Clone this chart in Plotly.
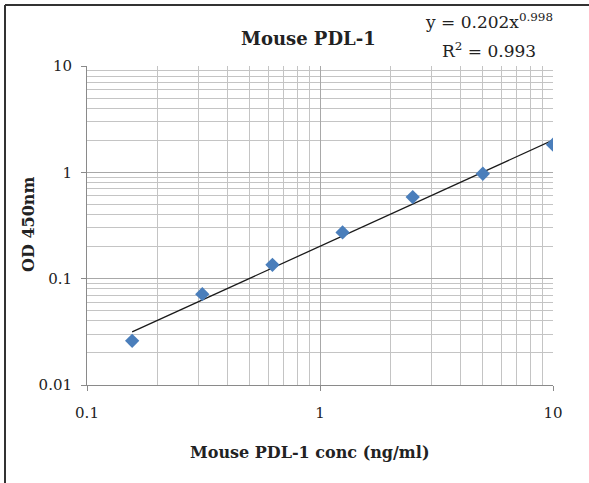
import plotly.graph_objects as go

# Data
conc = [0.15625, 0.3125, 0.625, 1.25, 2.5, 5, 10]
od450 = [0.026, 0.0715, 0.135, 0.272, 0.585, 0.97, 1.82]

# Power trendline endpoints (y = 0.202x^0.998)
trend_x = [0.15625, 10]
trend_y = [0.0316, 2.01]

x_major = [0.1, 1, 10]
x_minor = [0.2, 0.3, 0.4, 0.5, 0.6, 0.7, 0.8, 0.9, 2, 3, 4, 5, 6, 7, 8, 9]
y_major = [0.01, 0.1, 1, 10]
y_minor = [0.02, 0.03, 0.04, 0.05, 0.06, 0.07, 0.08, 0.09,
           0.2, 0.3, 0.4, 0.5, 0.6, 0.7, 0.8, 0.9,
           2, 3, 4, 5, 6, 7, 8, 9]
x_ticktext = ["0.1", "1", "10"]
y_ticktext = ["0.01", "0.1", "1", "10"]

W, H = 589, 483
L, R, T, B = 87, 553, 66, 385

def px(x):
    return (x - L) / (R - L)

def py(y):
    return (B - y) / (B - T)

SERIF = "DejaVu Serif"
GRID = "#c4c4c4"

fig = go.Figure()
fig.add_trace(go.Scatter(
    x=trend_x, y=trend_y, mode="lines",
    line=dict(color="#1a1a1a", width=1.3), showlegend=False, hoverinfo="skip"))
fig.add_trace(go.Scatter(
    x=conc, y=od450, mode="markers",
    marker=dict(symbol="diamond", size=11, color="#4a7ebb"),
    showlegend=False))

axis_common = dict(
    type="log", showline=True, linecolor="#8a8a8a", linewidth=1,
    ticks="outside", ticklen=5, tickcolor="#8a8a8a",
    showgrid=True, gridcolor="#a8a8a8", gridwidth=1,
    tickfont=dict(family=SERIF, size=15, color="#222"),
    zeroline=False, mirror=False,
)

fig.update_xaxes(
    **axis_common, range=[-1, 1], tickmode="array",
    tickvals=x_major, ticktext=x_ticktext, ticklabelstandoff=9,
    minor=dict(tickmode="array", tickvals=x_minor, showgrid=True,
               gridcolor=GRID, gridwidth=1, ticks=""),
)
fig.update_yaxes(
    **axis_common, range=[-2, 1], tickmode="array",
    tickvals=y_major, ticktext=y_ticktext, ticklabelstandoff=6,
    minor=dict(tickmode="array", tickvals=y_minor, showgrid=True,
               gridcolor=GRID, gridwidth=1, ticks=""),
)

annotations = [
    dict(text="<b>Mouse PDL-1</b>", x=px(308), y=py(38),
         font=dict(family=SERIF, size=18, color="#222")),
    dict(text="y = 0.202x<sup>0.998</sup>", x=px(489), y=py(21),
         font=dict(family=SERIF, size=17, color="#222")),
    dict(text="R<sup>2</sup> = 0.993", x=px(489), y=py(50),
         font=dict(family=SERIF, size=17, color="#222")),
    dict(text="<b>Mouse PDL-1 conc (ng/ml)</b>", x=px(309), y=py(452),
         font=dict(family=SERIF, size=16, color="#222")),
    dict(text="<b>OD 450nm</b>", x=px(28), y=py(225), textangle=-90,
         font=dict(family=SERIF, size=16, color="#222")),
]
for a in annotations:
    a.update(xref="paper", yref="paper", showarrow=False,
             xanchor="center", yanchor="middle")

shapes = [
    dict(type="line", xref="paper", yref="paper",
         x0=px(5), x1=px(5), y0=py(5), y1=py(490),
         line=dict(color="#333", width=2)),
    dict(type="line", xref="paper", yref="paper",
         x0=px(5), x1=px(595), y0=py(5), y1=py(5),
         line=dict(color="#333", width=2)),
]

fig.update_layout(
    width=W, height=H,
    margin=dict(l=L, r=W - R, t=T, b=H - B),
    paper_bgcolor="white", plot_bgcolor="white",
    annotations=annotations, shapes=shapes,
    showlegend=False,
)

fig.write_html("out.html", config={"displayModeBar": False},
               post_script="document.body.style.margin='0';document.body.style.padding='0';")
